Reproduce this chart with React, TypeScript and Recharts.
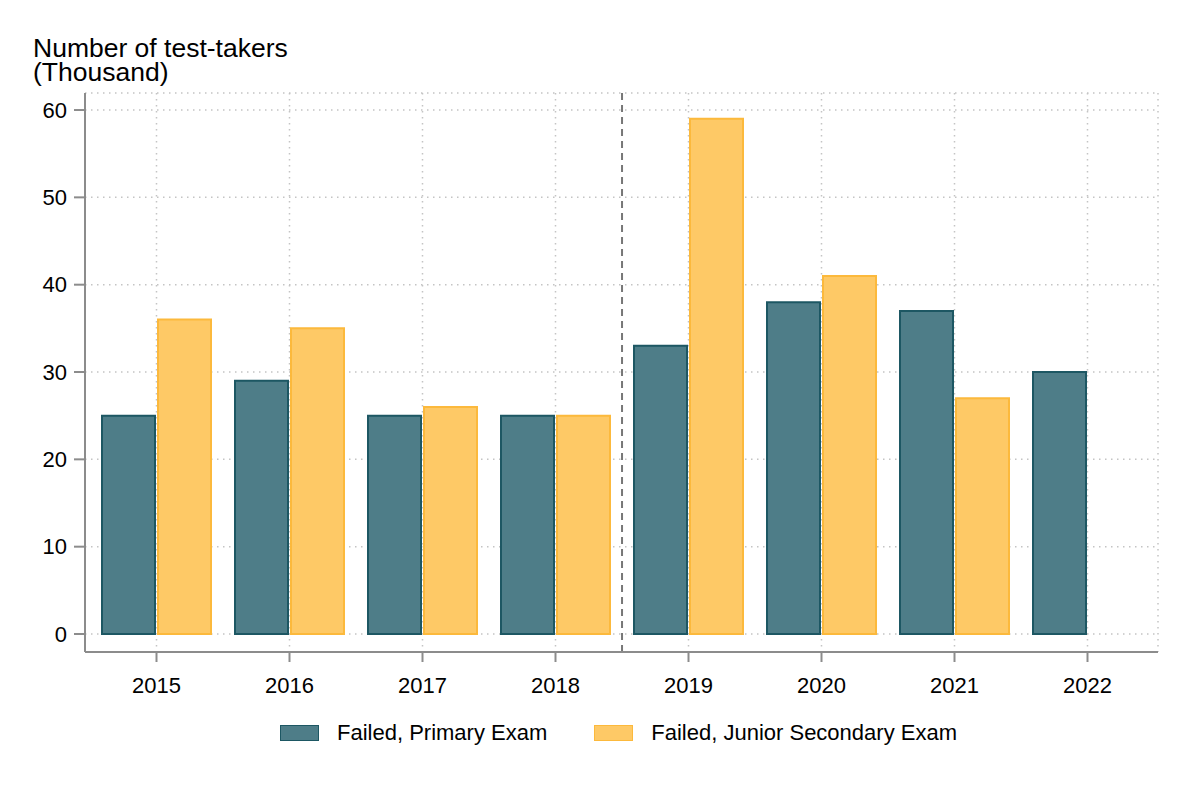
import { BarChart, Bar, XAxis, YAxis, CartesianGrid, Legend, ReferenceLine } from 'recharts'

const years = ['2015', '2016', '2017', '2018', '2019', '2020', '2021', '2022']
const primaryFailed = [25, 29, 25, 25, 33, 38, 37, 30]
const juniorFailed: (number | null)[] = [36, 35, 26, 25, 59, 41, 27, null]
const yTicks = [0, 10, 20, 30, 40, 50, 60]

const data = years.map((y, i) => ({
  year: y,
  yearNum: Number(y),
  primary: primaryFailed[i],
  junior: juniorFailed[i],
}))

const FONT = '"Liberation Sans", Arial, sans-serif'
const AXIS = '#8c8c8c'
const TEAL = '#4e7d88'
const TEAL_EDGE = '#1d5763'
const GOLD = '#fec966'
const GOLD_EDGE = '#fcb93c'

function LegendContent() {
  const items = [
    { label: 'Failed, Primary Exam', fill: TEAL, stroke: TEAL_EDGE },
    { label: 'Failed, Junior Secondary Exam', fill: GOLD, stroke: GOLD_EDGE },
  ]
  return (
    <div style={{ display: 'flex', alignItems: 'center', fontFamily: FONT, fontSize: 22, color: '#000' }}>
      {items.map((it, i) => (
        <div key={it.label} style={{ display: 'flex', alignItems: 'center', marginRight: i === 0 ? 47 : 0 }}>
          <div
            style={{
              width: 37,
              height: 14,
              background: it.fill,
              border: `1.5px solid ${it.stroke}`,
              marginRight: 18,
            }}
          />
          <span>{it.label}</span>
        </div>
      ))}
    </div>
  )
}

export default function App() {
  return (
    <div style={{ position: 'relative', width: 1172, height: 776 }}>
      <BarChart
        width={1172}
        height={776}
        data={data}
        margin={{ top: 85, right: 22, left: 0, bottom: 72 }}
        barCategoryGap={12}
        barGap={3}
      >
        <CartesianGrid stroke="#c4c4c4" strokeWidth={1.5} strokeDasharray="1.5 4.5" />
        <XAxis
          dataKey="year"
          padding={{ left: 5, right: 4 }}
          stroke={AXIS}
          axisLine={{ stroke: AXIS, strokeWidth: 2 }}
          tickLine={{ stroke: AXIS, strokeWidth: 2 }}
          tickSize={10}
          tickMargin={15}
          tick={{ fill: '#000', fontSize: 22, fontFamily: FONT }}
          height={60}
        />
        <XAxis
          xAxisId="num"
          dataKey="yearNum"
          type="number"
          domain={[2014.462, 2022.53]}
          allowDataOverflow
          hide
        />
        <YAxis
          domain={[-2.06, 61.95]}
          ticks={yTicks}
          allowDataOverflow
          width={77}
          stroke={AXIS}
          axisLine={{ stroke: AXIS, strokeWidth: 2 }}
          tickLine={{ stroke: AXIS, strokeWidth: 2 }}
          tickSize={11}
          tickMargin={7}
          tick={{ fill: '#000', fontSize: 22, fontFamily: FONT }}
        />
        <ReferenceLine x={2018.5} xAxisId="num" stroke="#777777" strokeWidth={2} strokeDasharray="7 5" />
        <Bar
          dataKey="primary"
          name="Failed, Primary Exam"
          fill={TEAL}
          stroke={TEAL_EDGE}
          strokeWidth={2}
          isAnimationActive={false}
        />
        <Bar
          dataKey="junior"
          name="Failed, Junior Secondary Exam"
          fill={GOLD}
          stroke={GOLD_EDGE}
          strokeWidth={2}
          isAnimationActive={false}
        />
        <Legend
          layout="horizontal"
          verticalAlign="middle"
          align="center"
          content={<LegendContent />}
          wrapperStyle={{ left: 272, top: 712, width: 'auto', bottom: 'auto' }}
        />
      </BarChart>
      <svg
        width={400}
        height={90}
        style={{ position: 'absolute', left: 0, top: 0, pointerEvents: 'none' }}
      >
        <text x={25} y={48.7} fontFamily={FONT} fontSize={26.5} fill="#000">
          Number of test-takers
        </text>
        <text x={25} y={73} fontFamily={FONT} fontSize={26.5} fill="#000">
          (Thousand)
        </text>
      </svg>
    </div>
  )
}
